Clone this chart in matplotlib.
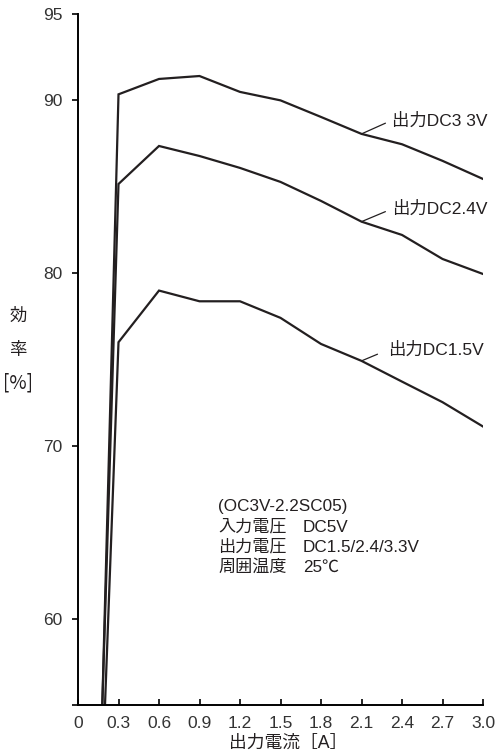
import matplotlib
matplotlib.use("Agg")
import matplotlib.pyplot as plt

plt.rcParams['font.family'] = ['Liberation Sans', 'Noto Sans CJK JP', 'DejaVu Sans']

# output current [A]
current = [0.18, 0.3, 0.6, 0.9, 1.2, 1.5, 1.8, 2.1, 2.4, 2.7, 3.0]
# efficiency [%]
eff_33 = [55.0, 90.35, 91.24, 91.41, 90.49, 90.0, 89.04, 88.06, 87.46, 86.5, 85.45]
eff_24 = [55.0, 85.16, 87.36, 86.78, 86.09, 85.28, 84.18, 82.98, 82.21, 80.82, 79.95]
current_15 = [0.2, 0.3, 0.6, 0.9, 1.2, 1.5, 1.8, 2.1, 2.4, 2.7, 3.0]
eff_15 = [55.0, 76.0, 78.99, 78.37, 78.37, 77.41, 75.9, 74.92, 73.72, 72.53, 71.12]

xticks = [0, 0.3, 0.6, 0.9, 1.2, 1.5, 1.8, 2.1, 2.4, 2.7, 3.0]
xticklabels = ['0', '0.3', '0.6', '0.9', '1.2', '1.5', '1.8', '2.1', '2.4', '2.7', '3.0']
yticks = [55, 60, 70, 80, 90, 95]
yticklabels = ['', '60', '70', '80', '90', '95']

ink = '#231f20'

fig = plt.figure(figsize=(4.95, 7.54), dpi=100)
ax = fig.add_axes([78 / 495, 1 - 705 / 754, 405 / 495, 691 / 754])

lw = 1.6
ax.plot(current, eff_33, color=ink, lw=lw, solid_joinstyle='miter')
ax.plot(current, eff_24, color=ink, lw=lw, solid_joinstyle='miter')
ax.plot(current_15, eff_15, color=ink, lw=lw, solid_joinstyle='miter')

ax.set_xlim(0, 3.0)
ax.set_ylim(55, 95)
ax.spines['top'].set_visible(False)
ax.spines['right'].set_visible(False)
ax.spines['left'].set_linewidth(1.4)
ax.spines['bottom'].set_linewidth(1.4)

ax.set_xticks(xticks)
ax.set_xticklabels(xticklabels)
ax.set_yticks(yticks)
ax.set_yticklabels(yticklabels)
ax.tick_params(axis='x', direction='in', length=4.5, width=1.2, pad=8,
               labelsize=12.5, labelcolor='#333333')
ax.tick_params(axis='y', direction='out', length=4.3, width=1.2, pad=7,
               labelsize=12.5, labelcolor='#333333')

# curve labels with leader lines
lab_kw = dict(fontsize=12.5, color=ink, va='center', ha='left')
ax.annotate('出力DC3 3V', xy=(2.1, 88.06), xytext=(2.326, 88.85),
            arrowprops=dict(arrowstyle='-', lw=0.9, color=ink, relpos=(0, 0.5),
                            shrinkA=3, shrinkB=0), **lab_kw)
ax.annotate('出力DC2.4V', xy=(2.1, 82.98), xytext=(2.326, 83.72),
            arrowprops=dict(arrowstyle='-', lw=0.9, color=ink, relpos=(0, 0.5),
                            shrinkA=3, shrinkB=0), **lab_kw)
ax.annotate('出力DC1.5V', xy=(2.1, 74.92), xytext=(2.296, 75.56),
            arrowprops=dict(arrowstyle='-', lw=0.9, color=ink, relpos=(0, 0.5),
                            shrinkA=6, shrinkB=0), **lab_kw)

# condition notes
notes_left = ['(OC3V-2.2SC05)', '入力電圧', '出力電圧', '周囲温度']
notes_right = ['', 'DC5V', 'DC1.5/2.4/3.3V', '25℃']
for i, (a, b) in enumerate(zip(notes_left, notes_right)):
    y = 507 + 20 * i
    fig.text(218 / 495, 1 - y / 754, a, fontsize=12.3, color=ink, va='center', ha='left')
    if b:
        fig.text(303 / 495, 1 - y / 754, b, fontsize=12.3, color=ink, va='center', ha='left')

# axis titles
fig.text(18 / 495, 1 - 316 / 754, '効', fontsize=12.5, color=ink, ha='center', va='center')
fig.text(18 / 495, 1 - 350 / 754, '率', fontsize=12.5, color=ink, ha='center', va='center')
fig.text(18 / 495, 1 - 383 / 754, '[%]', fontsize=13.5, color=ink, ha='center', va='center',
         family=['Noto Sans CJK JP', 'DejaVu Sans'])
fig.text(288 / 495, 1 - 743 / 754, '出力電流［A］', fontsize=12.8, color=ink, ha='center', va='center')

fig.savefig('out.png', dpi=100)
